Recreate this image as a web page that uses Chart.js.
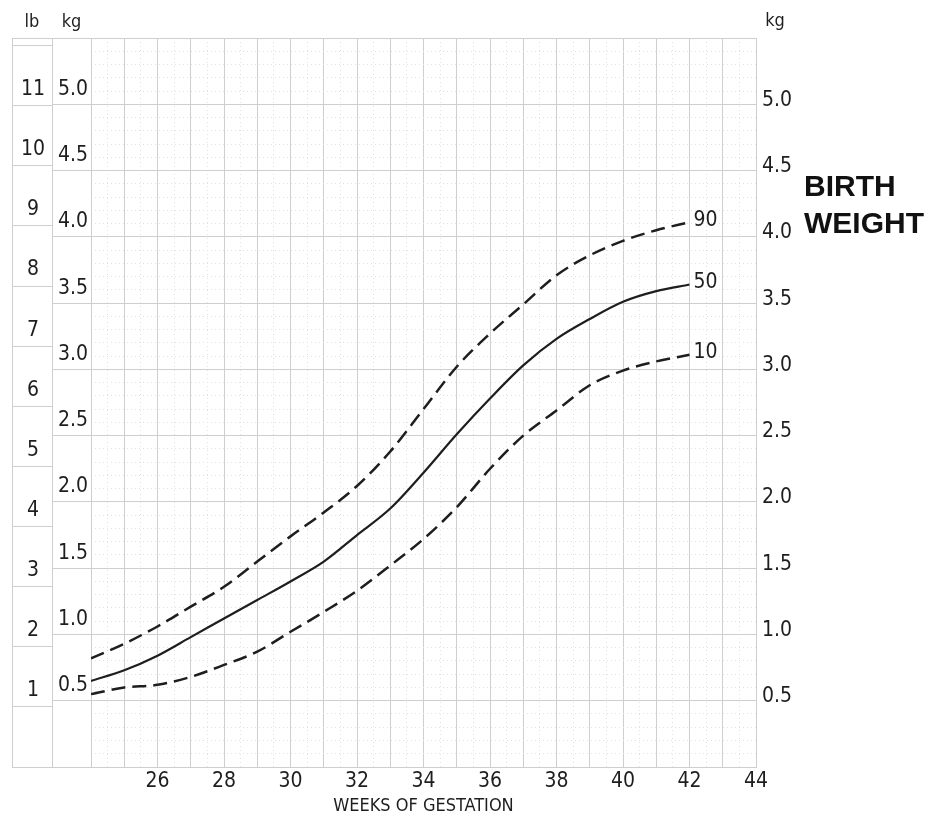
<!DOCTYPE html>
<html>
<head>
<meta charset="utf-8">
<script src="https://cdn.jsdelivr.net/npm/chart.js@4"></script>
<style>
  body { margin: 0; background: #fff; }
  #wrap { width: 931px; height: 816px; }
</style>
</head>
<body>
<div id="wrap"><canvas id="chart" width="931" height="816"></canvas></div>
<script>
// gestation weeks and birth weight percentiles (kg)
const weeks = [24, 25, 26, 27, 28, 29, 30, 31, 32, 33, 34, 35, 36, 37, 38, 39, 40, 41, 42];
const p90 = [0.82, 0.93, 1.06, 1.21, 1.36, 1.55, 1.74, 1.92, 2.12, 2.38, 2.70, 3.02, 3.27, 3.49, 3.71, 3.86, 3.97, 4.05, 4.11];
const p50 = [0.65, 0.73, 0.84, 0.98, 1.12, 1.26, 1.40, 1.55, 1.75, 1.95, 2.22, 2.51, 2.78, 3.03, 3.23, 3.38, 3.51, 3.59, 3.64];
const p10 = [0.55, 0.60, 0.62, 0.68, 0.77, 0.87, 1.02, 1.17, 1.33, 1.52, 1.72, 1.96, 2.25, 2.50, 2.69, 2.88, 2.99, 3.06, 3.11];

// tick labels
const weekLabels = [26, 28, 30, 32, 34, 36, 38, 40, 42, 44];
const kgLabels = [0.5, 1.0, 1.5, 2.0, 2.5, 3.0, 3.5, 4.0, 4.5, 5.0];
const lbLabels = [1, 2, 3, 4, 5, 6, 7, 8, 9, 10, 11];
const lbLines = [0, 1, 2, 3, 4, 5, 6, 7, 8, 9, 10, 11, 12];

const KG_MAX = 5.5;
const LB_PER_KG = 2.20462;

const FONT = "'Liberation Sans Narrow', 'DejaVu Sans Condensed', 'Arial Narrow', sans-serif";
const INK = "#1e1e1e";
const GRID = "#cfcfcf";
const MINOR = "#e2e2e2";

const near = (v, list) => list.some((l) => Math.abs(l - v) < 1e-6);
const onHalf = (v) => Math.abs(v * 2 - Math.round(v * 2)) < 1e-6;

function toPoints(values) {
  return weeks.map((w, i) => ({ x: w, y: values[i] }));
}

const decor = {
  id: "decor",
  afterDraw(chart) {
    const ctx = chart.ctx;
    const area = chart.chartArea;
    const lb = chart.scales.lb;
    const kg = chart.scales.y;
    const kgRight = chart.scales.yRight;
    ctx.save();

    // outer edges of the lb column
    ctx.strokeStyle = GRID;
    ctx.lineWidth = 1;
    ctx.beginPath();
    ctx.moveTo(lb.left + 0.5, area.top);
    ctx.lineTo(lb.left + 0.5, area.bottom);
    ctx.moveTo(lb.left, area.top + 0.5);
    ctx.lineTo(lb.right, area.top + 0.5);
    ctx.stroke();

    // unit headers
    ctx.fillStyle = INK;
    ctx.font = "18px " + FONT;
    ctx.textAlign = "center";
    ctx.textBaseline = "alphabetic";
    ctx.fillText("lb", (lb.left + lb.right) / 2, area.top - 11);
    ctx.fillText("kg", (kg.left + kg.right) / 2, area.top - 11);
    ctx.fillText("kg", kgRight.left + 19, area.top - 12);

    // percentile labels at line ends
    ctx.font = "21px " + FONT;
    ctx.textAlign = "left";
    ctx.textBaseline = "middle";
    chart.data.datasets.forEach((ds, i) => {
      const pts = chart.getDatasetMeta(i).data;
      const end = pts[pts.length - 1];
      ctx.fillText(ds.label, end.x + 4, end.y - 2);
    });

    // side title
    ctx.fillStyle = "#111";
    ctx.font = "bold 30px 'Liberation Sans', Arial, sans-serif";
    ctx.textBaseline = "middle";
    ctx.fillText("BIRTH", area.right + 48, area.top + 150);
    ctx.fillText("WEIGHT", area.right + 48, area.top + 187);
    ctx.restore();
  },
};

new Chart(document.getElementById("chart"), {
  type: "line",
  data: {
    datasets: [
      {
        label: "90",
        data: toPoints(p90),
        borderColor: INK,
        borderWidth: 2.5,
        borderDash: [14, 7],
        pointRadius: 0,
        cubicInterpolationMode: "monotone",
      },
      {
        label: "50",
        data: toPoints(p50),
        borderColor: INK,
        borderWidth: 2.2,
        pointRadius: 0,
        cubicInterpolationMode: "monotone",
      },
      {
        label: "10",
        data: toPoints(p10),
        borderColor: INK,
        borderWidth: 2.5,
        borderDash: [14, 7],
        pointRadius: 0,
        cubicInterpolationMode: "monotone",
      },
    ],
  },
  options: {
    responsive: false,
    animation: false,
    layout: { padding: { left: 12, top: 38, right: 125, bottom: 0 } },
    plugins: {
      legend: { display: false },
      tooltip: { enabled: false },
    },
    scales: {
      x: {
        type: "linear",
        position: "bottom",
        weight: 1,
        min: 24,
        max: 44,
        afterFit: (s) => { s.height = 49; },
        ticks: {
          stepSize: 1,
          autoSkip: false,
          maxRotation: 0,
          padding: 2,
          color: INK,
          font: { family: FONT, size: 21 },
          callback: (v) => (near(v, weekLabels) ? String(v) : ""),
        },
        grid: { color: GRID, drawTicks: false },
        border: { color: GRID },
        title: {
          display: true,
          text: "WEEKS OF GESTATION",
          color: INK,
          font: { family: FONT, size: 18 },
          padding: { top: 0, bottom: -1 },
        },
      },
      xMinor: {
        type: "linear",
        position: "bottom",
        weight: 0,
        min: 24,
        max: 44,
        afterFit: (s) => { s.height = 0; },
        ticks: { stepSize: 0.5, display: false },
        grid: {
          drawTicks: false,
          color: (c) => (c.tick && !Number.isInteger(c.tick.value) ? MINOR : "rgba(0,0,0,0)"),
        },
        border: { display: false, dash: [1, 3] },
      },
      y: {
        type: "linear",
        position: "left",
        weight: 5,
        min: 0,
        max: KG_MAX,
        afterFit: (s) => { s.width = 39; },
        ticks: {
          stepSize: 0.5,
          padding: -36,
          labelOffset: -15,
          crossAlign: "near",
          color: INK,
          font: { family: FONT, size: 21 },
          callback: (v) => (near(v, kgLabels) ? v.toFixed(1) : ""),
        },
        grid: { color: GRID, tickLength: 39 },
        border: { color: GRID },
      },
      yMinor: {
        type: "linear",
        position: "left",
        weight: 0,
        min: 0,
        max: KG_MAX,
        afterFit: (s) => { s.width = 0; },
        ticks: { stepSize: 0.1, display: false },
        grid: {
          drawTicks: false,
          color: (c) => (c.tick && !onHalf(c.tick.value) ? MINOR : "rgba(0,0,0,0)"),
        },
        border: { display: false, dash: [1, 3] },
      },
      lb: {
        type: "linear",
        position: "left",
        weight: 10,
        min: 0,
        max: KG_MAX * LB_PER_KG,
        afterFit: (s) => { s.width = 40; },
        afterBuildTicks: (s) => { s.ticks = lbLines.map((v) => ({ value: v })); },
        ticks: {
          padding: -33,
          labelOffset: -16,
          crossAlign: "center",
          color: INK,
          font: { family: FONT, size: 21 },
          callback: (v) => (near(v, lbLabels) ? String(v) : ""),
        },
        grid: { color: GRID, tickLength: 40, drawOnChartArea: false },
        border: { color: GRID },
      },
      yRight: {
        type: "linear",
        position: "right",
        min: 0,
        max: KG_MAX,
        afterFit: (s) => { s.width = 50; },
        ticks: {
          stepSize: 0.5,
          padding: 6,
          labelOffset: -4,
          color: INK,
          font: { family: FONT, size: 21 },
          callback: (v) => (near(v, kgLabels) ? v.toFixed(1) : ""),
        },
        grid: { drawOnChartArea: false, drawTicks: false },
        border: { display: false },
      },
    },
  },
  plugins: [decor],
});
</script>
</body>
</html>
